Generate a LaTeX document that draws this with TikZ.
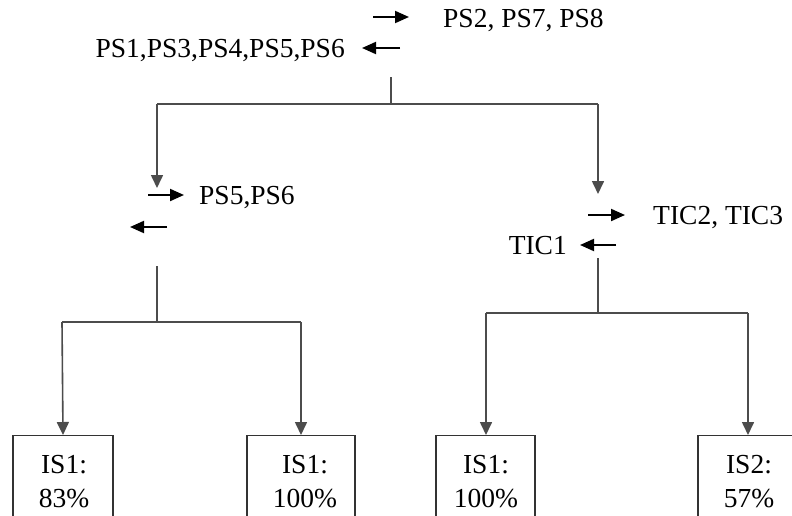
\documentclass[tikz,border=0pt]{standalone}
\usepackage{fontspec}
\setmainfont{Liberation Serif}
\usetikzlibrary{arrows.meta}
\tikzset{
  lbl/.style={inner sep=0pt, font=\fontsize{27.5pt}{34pt}\selectfont},
  tree/.style={draw=black!70, line width=1.6pt},
  treearrow/.style={tree, -{Triangle[width=12pt,length=13pt]}},
  textarrow/.style={draw=black, line width=2pt, -{Triangle[width=12pt,length=14pt]}},
  leafbox/.style={draw=black!80, line width=1.2pt, minimum width=100pt, minimum height=140pt, anchor=north, inner sep=0pt},
  leaftext/.style={lbl, align=center, anchor=base}
}
\begin{document}
\begin{tikzpicture}[x=1pt,y=-1pt]
\useasboundingbox (0,0) rectangle (792,515);
\clip (0,0) rectangle (792,515);
\fill[white] (0,0) rectangle (792,515);

% top level labels
\node[lbl, anchor=base west] (ttr) at (443,27) {PS2, PS7, PS8};
\node[lbl, anchor=base east] (ttl) at (345,57) {PS1,PS3,PS4,PS5,PS6};
\coordinate (tra) at (373,17); \coordinate (trb) at (409,17);
\coordinate (tla) at (400,48); \coordinate (tlb) at (362,48);
\draw[textarrow] (tra) -- (trb);
\draw[textarrow] (tla) -- (tlb);

% top split
\coordinate (r0) at (391,77);
\coordinate (r1) at (391,104);
\coordinate (jl) at (157,104);
\coordinate (jr) at (598,104);
\coordinate (dl) at (157,188);
\coordinate (dr) at (598,194);
\draw[tree] (r0) -- (r1);
\draw[tree] (jl) -- (jr);
\draw[treearrow] (jl) -- (dl);
\draw[treearrow] (jr) -- (dr);

% left middle
\coordinate (lra) at (148,195); \coordinate (lrb) at (184,195);
\node[lbl, anchor=base west] (lps) at (199,204) {PS5,PS6};
\coordinate (lla) at (167,227); \coordinate (llb) at (130,227);
\draw[textarrow] (lra) -- (lrb);
\draw[textarrow] (lla) -- (llb);

% right middle
\coordinate (rra) at (588,215); \coordinate (rrb) at (625,215);
\node[lbl, anchor=base west] (rtic) at (653,224) {TIC2, TIC3};
\coordinate (rla) at (616,245); \coordinate (rlb) at (580,245);
\node[lbl, anchor=base east] (rtic1) at (567,254) {TIC1};
\draw[textarrow] (rra) -- (rrb);
\draw[textarrow] (rla) -- (rlb);

% leaf boxes
\node[leafbox] (b1) at (63,435) {};
\node[leafbox, minimum width=108pt] (b2) at (301,435) {};
\node[leafbox, minimum width=99pt] (b3) at (485.5,435) {};
\node[leafbox] (b4) at (748,435) {};
\node[leaftext] (t1) at (64,507) {IS1:\\83\%};
\node[leaftext] (t2) at (305,507) {IS1:\\100\%};
\node[leaftext] (t3) at (486,507) {IS1:\\100\%};
\node[leaftext] (t4) at (749,507) {IS2:\\57\%};

% left subtree
\coordinate (ls0) at (157,266);
\coordinate (ls1) at (157,322);
\coordinate (lsl) at (62,322);
\coordinate (lsr) at (301,322);
\draw[tree] (ls0) -- (ls1);
\draw[tree] (lsl) -- (lsr);
\draw[treearrow] (lsl) -- (b1.north);
\draw[treearrow] (lsr) -- (b2.north);

% right subtree
\coordinate (rs0) at (598,258);
\coordinate (rs1) at (598,313);
\coordinate (rsl) at (486,313);
\coordinate (rsr) at (748,313);
\draw[tree] (rs0) -- (rs1);
\draw[tree] (rsl) -- (rsr);
\draw[treearrow] (rsl) -- (b3.north -| rsl);
\draw[treearrow] (rsr) -- (b4.north);
\end{tikzpicture}
\end{document}
